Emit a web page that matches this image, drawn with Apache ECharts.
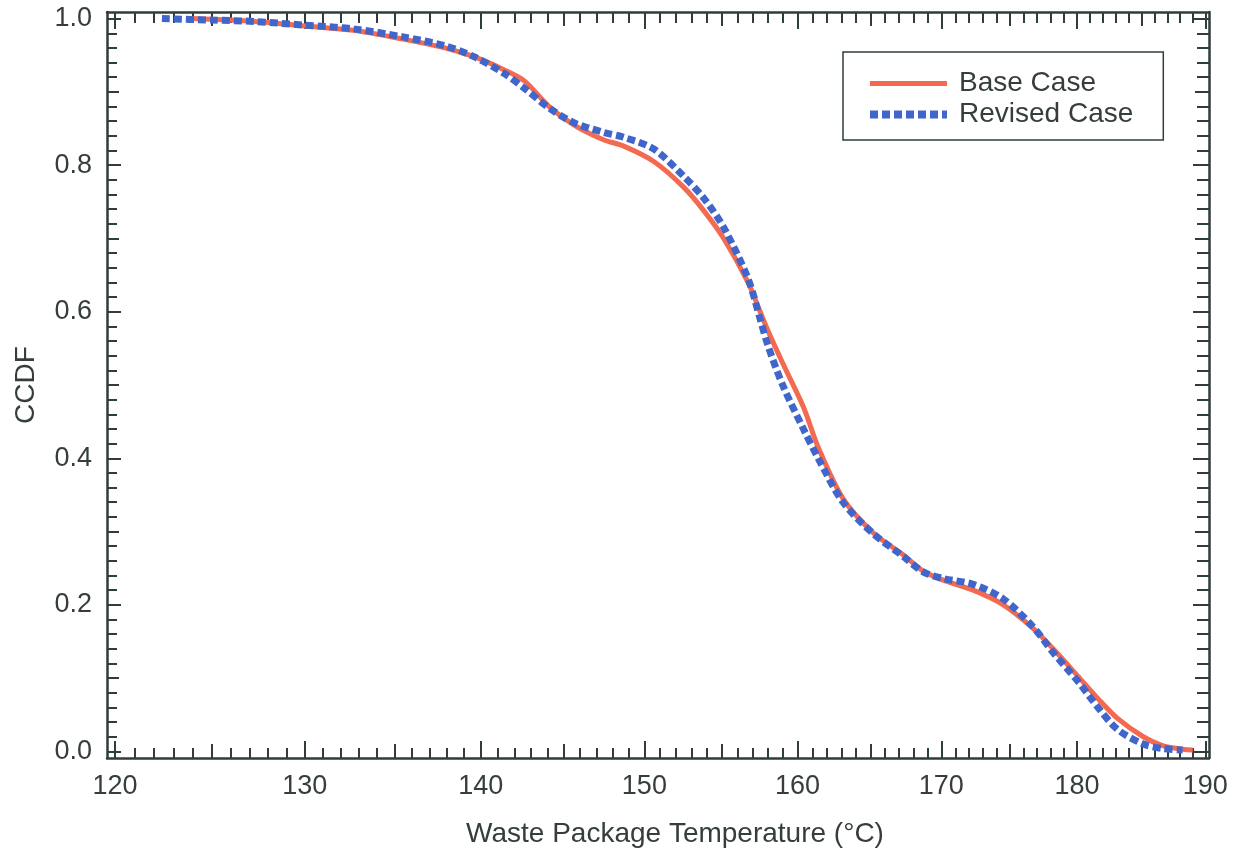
<!DOCTYPE html>
<html>
<head>
<meta charset="utf-8">
<script src="https://cdn.jsdelivr.net/npm/echarts@6/dist/echarts.min.js"></script>
<style>
html,body{margin:0;padding:0;background:#fff;}
#chart{width:1236px;height:856px;}
</style>
</head>
<body>
<div id="chart"></div>
<script>
// ---- Data ----
const seriesNames = ['Base Case', 'Revised Case'];
const baseCase = [
  [124.0, 1.0], [127.3, 0.996], [130.0, 0.990], [132.7, 0.984], [135.5, 0.972],
  [137.9, 0.960], [139.6, 0.948], [141.4, 0.930], [142.6, 0.915], [144.1, 0.880],
  [145.6, 0.855], [147.4, 0.835], [148.7, 0.826], [150.6, 0.805], [152.5, 0.770],
  [153.8, 0.738], [155.1, 0.700], [156.7, 0.640], [157.5, 0.600], [158.0, 0.575],
  [159.0, 0.530], [160.4, 0.470], [161.4, 0.415], [163.1, 0.345], [165.2, 0.298],
  [167.3, 0.268], [168.7, 0.246], [170.1, 0.234], [172.3, 0.220], [174.5, 0.200],
  [176.7, 0.168], [178.2, 0.140], [180.1, 0.102], [181.6, 0.072], [183.1, 0.045],
  [185.1, 0.020], [186.6, 0.008], [188.2, 0.003], [189.0, 0.002]
];
const revisedCase = [
  [122.4, 1.0], [125.0, 0.998], [127.3, 0.996], [130.0, 0.991], [132.7, 0.986],
  [135.5, 0.975], [137.9, 0.963], [139.6, 0.948], [141.4, 0.925], [142.6, 0.905],
  [144.1, 0.878], [145.6, 0.858], [147.4, 0.845], [148.7, 0.838], [150.6, 0.822],
  [152.5, 0.785], [153.8, 0.755], [155.1, 0.715], [156.7, 0.645], [157.5, 0.590],
  [158.0, 0.555], [159.0, 0.500], [160.4, 0.440], [161.4, 0.400], [163.1, 0.340],
  [165.2, 0.297], [167.3, 0.266], [168.7, 0.245], [170.1, 0.236], [172.3, 0.228],
  [174.5, 0.208], [176.7, 0.170], [178.2, 0.135], [180.1, 0.095], [181.6, 0.060],
  [183.1, 0.030], [185.1, 0.010], [186.6, 0.004], [188.2, 0.002]
];
const xTickLabels = [120, 130, 140, 150, 160, 170, 180, 190];
const yTickLabels = [0, 0.2, 0.4, 0.6, 0.8, 1.0];
const xTitle = 'Waste Package Temperature (°C)';
const yTitle = 'CCDF';

// ---- tick positions ----
const xMid = [];
const xMinor = [];
for (let t = 121; t < 190; t++) {
  if (t % 10 === 5) xMid.push(t);
  else if (t % 5 !== 0) xMinor.push(t);
}
const yMid = [0.1, 0.3, 0.5, 0.7, 0.9];
const yMinor = [];
for (let i = 1; i < 50; i++) {
  if (i % 5 !== 0) yMinor.push(+(i * 0.02).toFixed(2));
}

const axisColor = '#2f3d3d';
const textColor = '#353d3d';
const baseColor = '#f36a50';
const revColor = '#4066cc';
const FONT = '"Liberation Sans", Arial, sans-serif';
const XMIN = 119.6, XMAX = 190.3, YMIN = -0.009, YMAX = 1.009;

function xAx(pos, vals, len, main) {
  return {
    type: 'log', logBase: Math.E, position: pos, min: XMIN, max: XMAX, gridIndex: 0,
    axisLine: {show: main, onZero: false, lineStyle: {color: axisColor, width: 2.5}},
    axisTick: {show: true, inside: true, length: len, customValues: vals,
               lineStyle: {color: axisColor, width: 2}},
    axisLabel: {show: main && pos === 'bottom', customValues: xTickLabels, margin: 15,
                color: textColor, fontSize: 27, fontFamily: FONT,
                formatter: v => String(Math.round(v))},
    splitLine: {show: false}, minorTick: {show: false},
    name: (main && pos === 'bottom') ? xTitle : '',
    nameLocation: 'middle', nameGap: 62,
    nameTextStyle: {color: textColor, fontSize: 28, fontFamily: FONT, padding: [0, 0, 0, 34]}
  };
}
function yAx(pos, vals, len, main) {
  return {
    type: 'value', position: pos, min: YMIN, max: YMAX, gridIndex: 0,
    axisLine: {show: main, onZero: false, lineStyle: {color: axisColor, width: 2.5}},
    axisTick: {show: true, inside: true, length: len, customValues: vals,
               lineStyle: {color: axisColor, width: 2}},
    axisLabel: {show: main && pos === 'left', customValues: yTickLabels, margin: 15,
                color: textColor, fontSize: 27, fontFamily: FONT,
                formatter: v => v.toFixed(1)},
    splitLine: {show: false}, minorTick: {show: false},
    name: (main && pos === 'left') ? yTitle : '',
    nameLocation: 'middle', nameGap: 67, nameRotate: 90,
    nameTextStyle: {color: textColor, fontSize: 28, fontFamily: FONT}
  };
}

const chart = echarts.init(document.getElementById('chart'), null, {renderer: 'canvas'});
chart.setOption({
  backgroundColor: '#ffffff',
  animation: false,
  grid: {left: 107, right: 27, top: 12, bottom: 98, containLabel: false},
  xAxis: [
    xAx('bottom', xTickLabels, 17, true),
    xAx('bottom', xMid, 14, false),
    xAx('bottom', xMinor, 10, false),
    xAx('top', xTickLabels, 17, true),
    xAx('top', xMid, 14, false),
    xAx('top', xMinor, 11, false)
  ],
  yAxis: [
    yAx('left', yTickLabels, 14, true),
    yAx('left', yMid, 12, false),
    yAx('left', yMinor, 10, false),
    yAx('right', yTickLabels, 16, true),
    yAx('right', yMid, 14, false),
    yAx('right', yMinor, 12, false)
  ],
  legend: {
    orient: 'vertical', left: 843, top: 52,
    padding: [16, 30, 10, 23],
    borderColor: axisColor, borderWidth: 1.5,
    itemWidth: 77, itemHeight: 14, itemGap: 0,
    itemStyle: {opacity: 0},
    textStyle: {color: textColor, fontSize: 28, fontFamily: FONT,
                padding: [0, 0, 0, 7], lineHeight: 31},
    data: [
      {name: seriesNames[0], itemStyle: {opacity: 0},
       lineStyle: {color: baseColor, width: 5, type: 'solid'}},
      {name: seriesNames[1], itemStyle: {opacity: 0},
       lineStyle: {color: revColor, width: 8, type: [8, 4], cap: 'butt'}}
    ]
  },
  series: [
    {
      name: seriesNames[0], type: 'line', xAxisIndex: 0, yAxisIndex: 0,
      data: baseCase, showSymbol: false, symbol: 'none', smooth: 0.3,
      lineStyle: {color: baseColor, width: 5, type: 'solid'},
      itemStyle: {color: baseColor}, z: 2
    },
    {
      name: seriesNames[1], type: 'line', xAxisIndex: 0, yAxisIndex: 0,
      data: revisedCase, showSymbol: false, symbol: 'none', smooth: 0.3,
      lineStyle: {color: revColor, width: 7, type: [8, 4], cap: 'butt'},
      itemStyle: {color: revColor}, z: 3
    }
  ]
});
</script>
</body>
</html>
